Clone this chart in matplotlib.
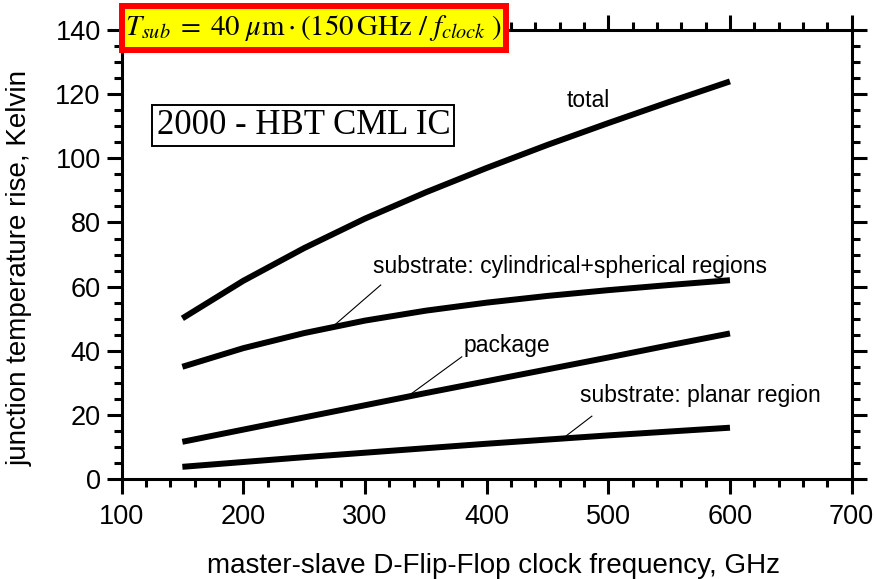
import numpy as np
import matplotlib
matplotlib.use('Agg')
import matplotlib.pyplot as plt
from matplotlib.patches import Rectangle
from matplotlib.ticker import MultipleLocator

plt.rcParams['font.family'] = ['Liberation Sans', 'DejaVu Sans']
plt.rcParams['mathtext.fontset'] = 'stix'

## DATA
freq = [150, 200, 250, 300, 350, 400, 450, 500, 550, 600]
total = [50.1, 61.8, 72.0, 81.2, 89.4, 97.0, 104.2, 111.0, 117.6, 124.0]
cyl_sph = [35.0, 40.8, 45.5, 49.4, 52.5, 55.0, 57.1, 58.9, 60.5, 62.0]
package = [11.6, 15.4, 19.2, 23.0, 26.8, 30.5, 34.2, 37.9, 41.7, 45.4]
planar = [3.8, 5.3, 6.8, 8.2, 9.6, 11.0, 12.3, 13.6, 14.8, 16.0]

# label text, text position, leader line (curve point -> text end) or None
labels = [
    ('total', (483.4, 118.2), None),
    ('substrate: cylindrical+spherical regions', (306.7, 66.4), ((274.1, 47.7), (313.0, 60.5))),
    ('package', (380.7, 41.5), ((338.5, 26.7), (379.6, 38.1))),
    ('substrate: planar region', (476.8, 25.9), ((464.5, 13.2), (486.5, 19.6))),
]

fig = plt.figure(figsize=(8.78, 5.79), dpi=100)
ax = fig.add_axes([0.1384, 0.1727, 0.8316, 0.7753])

for s in [total, cyl_sph, package, planar]:
    ax.plot(freq, s, color='black', lw=4.3, solid_capstyle='butt')

for txt, pos, lead in labels:
    ha = 'center' if lead is None else 'left'
    ax.text(pos[0], pos[1], txt, fontsize=16.5, ha=ha, va='center')
    if lead is not None:
        ax.plot([lead[0][0], lead[1][0]], [lead[0][1], lead[1][1]], color='black', lw=0.8)

ax.text(0.249, 0.787, '2000 - HBT CML IC', transform=ax.transAxes, family='Liberation Serif',
        fontsize=25, ha='center', va='center',
        bbox=dict(boxstyle='square,pad=0.12', fc='white', ec='black', lw=1.4))

ax.set_xlim(100, 700)
ax.set_ylim(0, 140)
ax.xaxis.set_major_locator(MultipleLocator(100))
ax.xaxis.set_minor_locator(MultipleLocator(20))
ax.yaxis.set_major_locator(MultipleLocator(20))
ax.yaxis.set_minor_locator(MultipleLocator(5))
ax.tick_params(which='both', direction='out', top=True, right=True, width=2.2, labelsize=19.5)
ax.tick_params(which='major', length=11)
ax.tick_params(which='minor', length=5.5)
ax.tick_params(axis='x', pad=7)
ax.tick_params(axis='y', pad=4)
for sp in ax.spines.values():
    sp.set_linewidth(2.2)

ax.set_xlabel('master-slave D-Flip-Flop clock frequency, GHz', fontsize=20)
ax.set_ylabel('junction temperature rise, Kelvin', fontsize=20)
ax.xaxis.set_label_coords(0.509, -0.165)
ax.yaxis.set_label_coords(-0.121, 0.47)

# formula box on top
fig.patches.append(Rectangle((0.139, 0.9136), 0.437, 0.0765, transform=fig.transFigure,
                             fc='yellow', ec='red', lw=4.3, zorder=10))
fig.text(0.3575, 0.952, r'$T_{sub}\;=\;40\ \mu\mathrm{m} \cdot (150\,\mathrm{GHz}\ /\ f_{clock}\ )$',
         fontsize=20.8, ha='center', va='center', zorder=11)

plt.savefig('out.png', dpi=100)
